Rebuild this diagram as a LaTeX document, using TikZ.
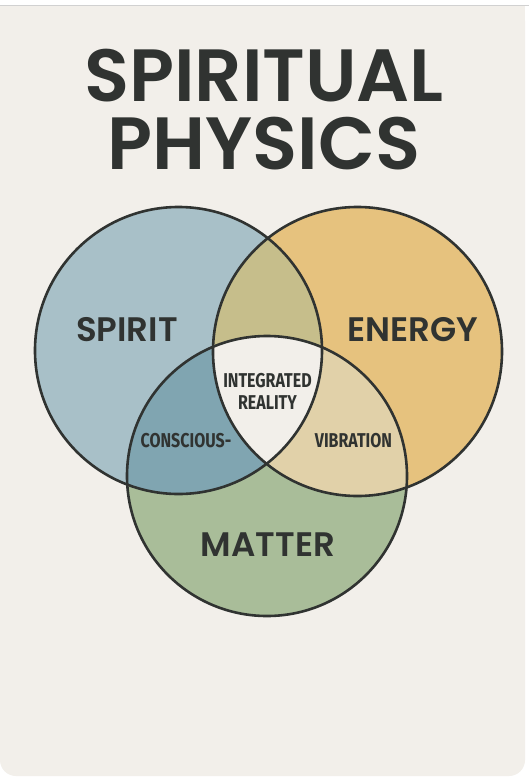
\documentclass[tikz,border=0pt]{standalone}
\usepackage{fontspec}
\setmainfont{Poppins}
\newfontfamily\titlefont{Poppins SemiBold}
\newfontfamily\narrowfont{Fira Sans}[FakeStretch=0.8]
\definecolor{cardbg}{HTML}{F2EFEA}
\definecolor{ink}{HTML}{303331}
\definecolor{spiritblue}{HTML}{A8C0C8}
\definecolor{energygold}{HTML}{E6C27E}
\definecolor{mattergreen}{HTML}{A9BD99}
\definecolor{spiritenergy}{HTML}{C6BE8B}
\definecolor{spiritmatter}{HTML}{80A5B1}
\definecolor{energymatter}{HTML}{E1D1A9}
\tikzset{
  ring/.style={draw=ink, line width=2.6pt},
  biglabel/.style={text=ink, font=\titlefont\fontsize{34}{34}\selectfont, inner sep=0pt},
  smalllabel/.style={text=ink, font=\narrowfont\bfseries\fontsize{20}{22}\selectfont, inner sep=0pt, align=center}
}
\begin{document}
\begin{tikzpicture}[x=1pt,y=-1pt]
    \useasboundingbox (0,0) rectangle (529,777);
    \fill[white] (0,0) rectangle (529,777);

    % Card
    \fill[cardbg] (0,5) rectangle (525,60);
    \fill[cardbg, rounded corners=16pt] (0,5) rectangle (525,776);
    \draw[black!18, line width=1pt] (0,5) -- (529,5);

    % Title
    \node[text=ink, font=\titlefont\fontsize{74}{68}\selectfont, align=center, inner sep=0pt] (title) at (264,110) {SPIRITUAL\\PHYSICS};

    % Circle centres
    \coordinate (S) at (178.5,350.5);
    \coordinate (E) at (357.5,351.5);
    \coordinate (M) at (267,476);

    % Plain fills
    \fill[spiritblue] (S) circle (143.5pt);
    \fill[energygold] (E) circle (144.5pt);
    \fill[mattergreen] (M) circle (140pt);

    % Pairwise overlaps
    \begin{scope}
        \clip (S) circle (143.5pt);
        \fill[spiritenergy] (E) circle (144.5pt);
        \fill[spiritmatter] (M) circle (140pt);
    \end{scope}
    \begin{scope}
        \clip (E) circle (144.5pt);
        \fill[energymatter] (M) circle (140pt);
    \end{scope}
    % Centre
    \begin{scope}
        \clip (S) circle (143.5pt);
        \clip (E) circle (144.5pt);
        \fill[cardbg] (M) circle (140pt);
    \end{scope}

    % Outlines
    \foreach \c/\r in {S/143.5, E/144.5, M/140} {
        \draw[ring] (\c) circle (\r pt);
    }

    % Labels
    \node[biglabel] (spirit) at (127,330) {SPIRIT};
    \node[biglabel] (energy) at (413,330) {ENERGY};
    \node[biglabel] (matter) at (268,545) {MATTER};
    \node[smalllabel] (integrated) at (267.5,391) {INTEGRATED\\REALITY};
    \node[smalllabel] (conscious) at (186,441) {CONSCIOUS-};
    \node[smalllabel] (vibration) at (353.5,441) {VIBRATION};
\end{tikzpicture}
\end{document}
